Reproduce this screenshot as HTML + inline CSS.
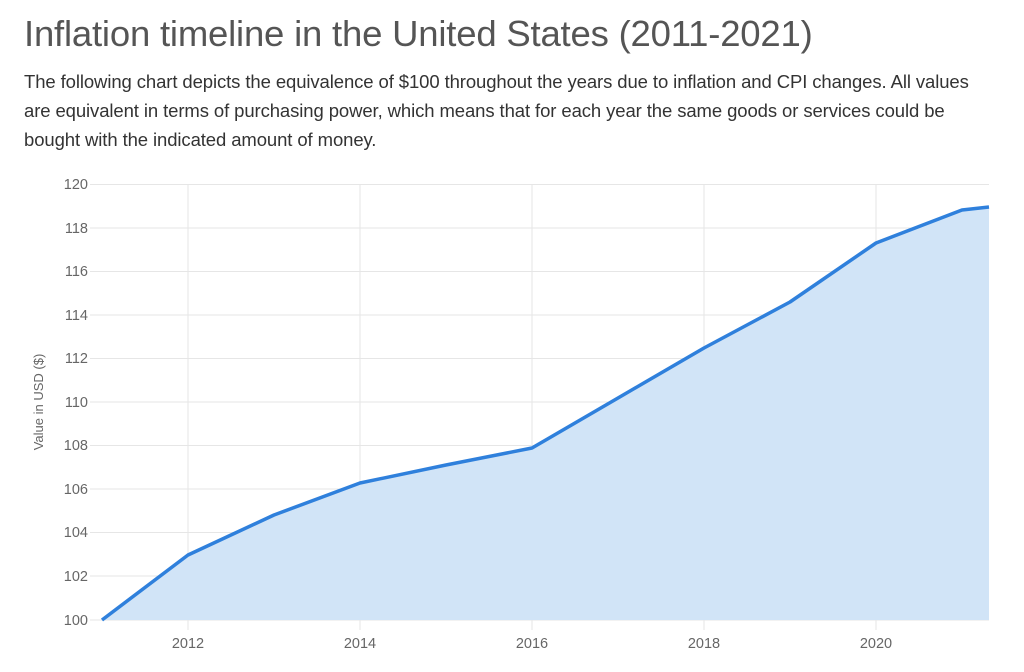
<!DOCTYPE html>
<html><head><meta charset="utf-8"><style>
body{margin:0;width:1024px;height:672px;background:#fff;font-family:"Liberation Sans",sans-serif;overflow:hidden}
h1{position:absolute;left:24px;top:13px;margin:0;font-weight:normal;font-size:36.5px;color:#555;letter-spacing:-0.2px}
p{position:absolute;left:24px;top:67px;margin:0;width:972px;font-size:18.5px;line-height:29px;color:#333;letter-spacing:-0.1px}
svg{position:absolute;left:0;top:0}
</style></head><body>
<h1>Inflation timeline in the United States (2011-2021)</h1>
<p>The following chart depicts the equivalence of $100 throughout the years due to inflation and CPI changes. All values are equivalent in terms of purchasing power, which means that for each year the same goods or services could be bought with the indicated amount of money.</p>
<svg width="1024" height="672" font-family="Liberation Sans, sans-serif">
<g stroke="#e6e6e6" stroke-width="1">
<line x1="90" x2="989" y1="184.5" y2="184.5"/><line x1="90" x2="989" y1="228" y2="228"/><line x1="90" x2="989" y1="271.5" y2="271.5"/><line x1="90" x2="989" y1="315" y2="315"/><line x1="90" x2="989" y1="358.5" y2="358.5"/><line x1="90" x2="989" y1="402" y2="402"/><line x1="90" x2="989" y1="445.5" y2="445.5"/><line x1="90" x2="989" y1="489" y2="489"/><line x1="90" x2="989" y1="532.5" y2="532.5"/><line x1="90" x2="989" y1="576" y2="576"/><line x1="90" x2="989" y1="620" y2="620"/>
<line x1="188" x2="188" y1="184" y2="630"/><line x1="360" x2="360" y1="184" y2="630"/><line x1="532" x2="532" y1="184" y2="630"/><line x1="704" x2="704" y1="184" y2="630"/><line x1="876" x2="876" y1="184" y2="630"/>
</g>
<path d="M102,620 L188,555 L274,515 L360,483 L446,465 L532,448 L618,398 L704,348 L790,302 L876,243 L962,210 L989,207 L989,620 Z" fill="#d1e4f7"/>
<path d="M102,620 L188,555 L274,515 L360,483 L446,465 L532,448 L618,398 L704,348 L790,302 L876,243 L962,210 L989,207" fill="none" stroke="#2f80dc" stroke-width="3.5" stroke-linejoin="round"/>
<g fill="#666" font-size="14.5" text-anchor="end">
<text x="88" y="189">120</text><text x="88" y="233">118</text><text x="88" y="276">116</text><text x="88" y="320">114</text><text x="88" y="363">112</text><text x="88" y="407">110</text><text x="88" y="450">108</text><text x="88" y="494">106</text><text x="88" y="537">104</text><text x="88" y="581">102</text><text x="88" y="625">100</text>
</g>
<g fill="#666" font-size="14.5" text-anchor="middle">
<text x="188" y="648">2012</text><text x="360" y="648">2014</text><text x="532" y="648">2016</text><text x="704" y="648">2018</text><text x="876" y="648">2020</text>
</g>
<text transform="translate(43,402) rotate(-90)" fill="#666" font-size="13" text-anchor="middle">Value in USD ($)</text>
</svg>
</body></html>
